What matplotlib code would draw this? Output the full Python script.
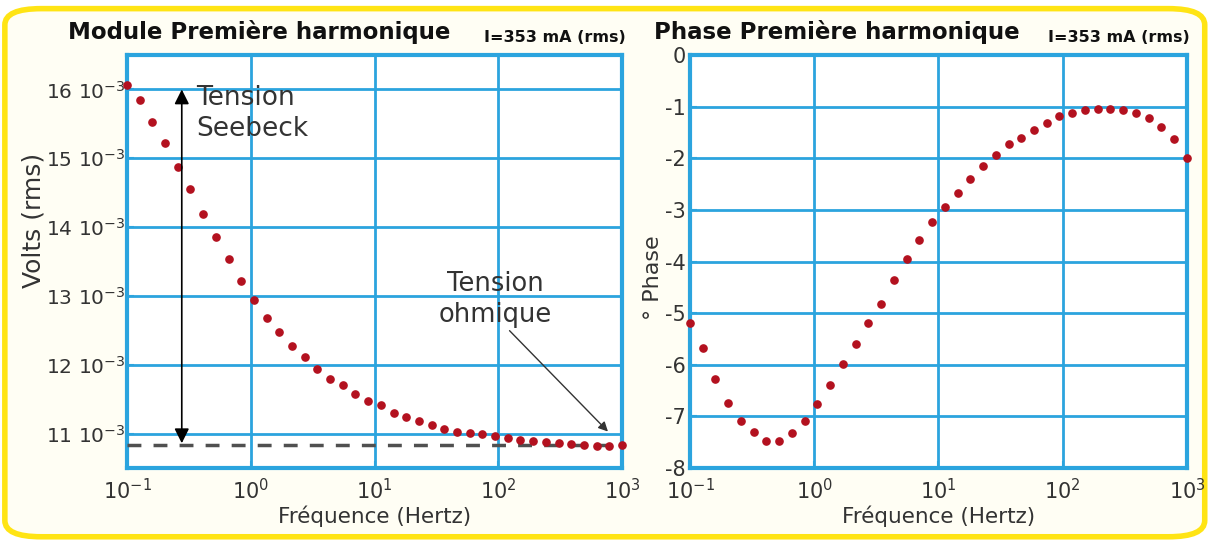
import numpy as np
import matplotlib
matplotlib.use("Agg")
import matplotlib.pyplot as plt
from matplotlib.patches import FancyBboxPatch

plt.rcParams['font.family'] = ['DejaVu Sans']
plt.rcParams['axes.unicode_minus'] = False

# measurement grid: 40 frequencies, 10^-1 .. 10^3 Hz
freq = np.logspace(-1, 3, 40)

# module of the first harmonic (in mV)
module_mv = [16.07, 15.84, 15.53, 15.22, 14.87, 14.55, 14.19, 13.86, 13.53, 13.22,
             12.94, 12.68, 12.48, 12.27, 12.12, 11.94, 11.80, 11.70, 11.58, 11.48,
             11.41, 11.30, 11.24, 11.18, 11.13, 11.07, 11.03, 11.01, 10.99, 10.97,
             10.94, 10.91, 10.89, 10.88, 10.87, 10.85, 10.83, 10.82, 10.82, 10.83]

# phase of the first harmonic (degrees)
phase_deg = [-5.19, -5.67, -6.28, -6.75, -7.08, -7.31, -7.48, -7.48, -7.32, -7.08,
             -6.76, -6.40, -5.99, -5.59, -5.20, -4.82, -4.35, -3.95, -3.58, -3.23,
             -2.95, -2.67, -2.40, -2.15, -1.94, -1.72, -1.61, -1.45, -1.31, -1.19,
             -1.13, -1.06, -1.04, -1.04, -1.06, -1.12, -1.22, -1.40, -1.63, -2.00]

ohmic_mv = 10.83
volt_ticks_mv = [11, 12, 13, 14, 15, 16]
volt_labels = ['%d 10$^{-3}$' % v for v in volt_ticks_mv]
phase_ticks = [0, -1, -2, -3, -4, -5, -6, -7, -8]
freq_ticks = [0.1, 1, 10, 100, 1000]

blue = '#2BA4DE'
red = '#B3111F'
txt = '#333333'

fig = plt.figure(figsize=(12.12, 5.4), dpi=100)
fig.patch.set_facecolor('white')
frame = FancyBboxPatch((0.004, 0.006), 0.99, 0.978, boxstyle='round,pad=0,rounding_size=0.03',
                       transform=fig.transFigure, facecolor='#FFFEF4', edgecolor='#FFE414',
                       linewidth=4, zorder=-10)
fig.patches.append(frame)

ax1 = fig.add_axes([0.1048, 0.1333, 0.4084, 0.7648])
ax2 = fig.add_axes([0.5693, 0.1333, 0.4100, 0.7648])

for ax in (ax1, ax2):
    ax.set_facecolor('white')
    ax.set_xscale('log')
    ax.set_xlim(0.1, 1000)
    ax.set_xticks(freq_ticks)
    ax.xaxis.set_minor_locator(matplotlib.ticker.NullLocator())
    ax.grid(True, color=blue, linewidth=2.0)
    ax.set_axisbelow(True)
    for s in ax.spines.values():
        s.set_color(blue)
        s.set_linewidth(3)
    ax.tick_params(direction='in', color=blue, labelsize=15, labelcolor=txt,
                   length=5, width=1.5)
    ax.tick_params(axis='x', pad=7)
    ax.set_xlabel('Fréquence (Hertz)', fontsize=15.5, color=txt, labelpad=2)

# ---- left: module ----
ax1.plot(freq, np.array(module_mv) * 1e-3, 'o', color=red, markersize=5.2, clip_on=False, zorder=5)
ax1.set_ylim(10.5e-3, 16.5e-3)
ax1.set_yticks(np.array(volt_ticks_mv) * 1e-3)
ax1.set_yticklabels(volt_labels)
ax1.tick_params(axis='y', pad=1, labelsize=14.5)
ax1.axhline(ohmic_mv * 1e-3, color='#505050', linestyle=(0, (4, 3.5)), linewidth=2.5, zorder=3)
ax1.set_ylabel('Volts (rms)', fontsize=18, color=txt)
ax1.yaxis.set_label_coords(-0.165, 0.6)

ax1.annotate('', xy=(0.277, 10.86e-3), xytext=(0.277, 16.0e-3),
             arrowprops=dict(arrowstyle='<|-|>', color='black', lw=1.2,
                             mutation_scale=22, shrinkA=0, shrinkB=0), zorder=6)
ax1.text(0.36, 16.06e-3, 'Tension\nSeebeck', fontsize=19, color=txt,
         va='top', ha='left', linespacing=1.25)

ax1.annotate('Tension\nohmique', xy=(770, 11.03e-3), xytext=(95, 12.95e-3),
             fontsize=18.5, color=txt, ha='center', va='center', linespacing=1.25,
             arrowprops=dict(arrowstyle='-|>', color=txt, lw=1.0, mutation_scale=14,
                             shrinkA=0, shrinkB=0, relpos=(0.6, 0.0)), zorder=6)

# ---- right: phase ----
ax2.plot(freq, phase_deg, 'o', color=red, markersize=5.2, clip_on=False, zorder=5)
ax2.set_ylim(-8, 0)
ax2.set_yticks(phase_ticks)
ax2.set_yticklabels([str(t) for t in phase_ticks])
ax2.tick_params(axis='y', pad=3)
ax2.set_ylabel('° Phase', fontsize=16, color=txt)
ax2.yaxis.set_label_coords(-0.055, 0.46)

# titles
fig.text(0.056, 0.940, 'Module Première harmonique', fontsize=16.5, fontweight='bold',
         va='center', ha='left', color='#111111')
fig.text(0.516, 0.930, 'I=353 mA (rms)', fontsize=11.5, fontweight='bold',
         va='center', ha='right', color='#111111')
fig.text(0.540, 0.940, 'Phase Première harmonique', fontsize=16.5, fontweight='bold',
         va='center', ha='left', color='#111111')
fig.text(0.982, 0.930, 'I=353 mA (rms)', fontsize=11.5, fontweight='bold',
         va='center', ha='right', color='#111111')

fig.savefig('out.png', dpi=100)
